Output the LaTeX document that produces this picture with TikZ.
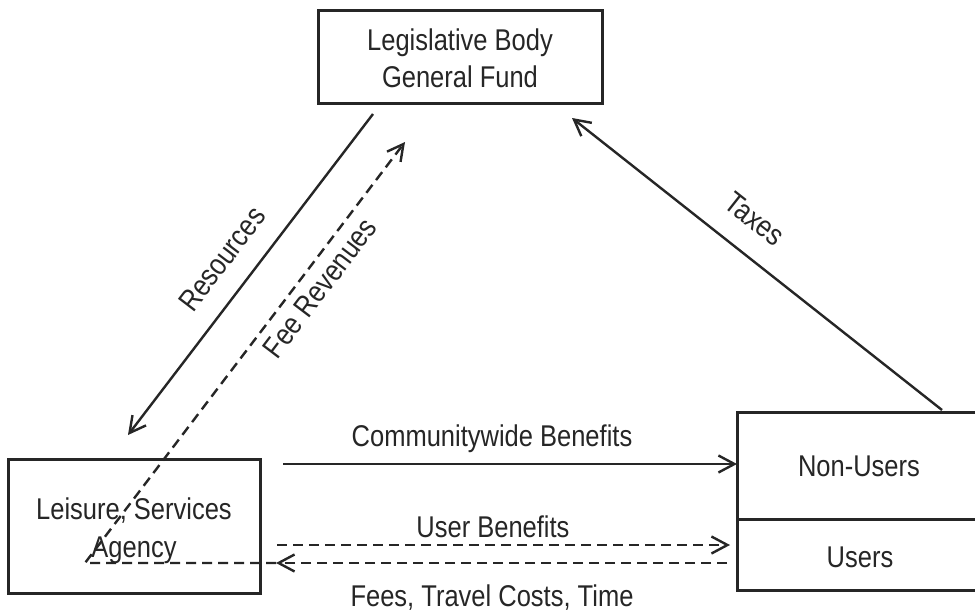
\documentclass[tikz,border=0pt]{standalone}
\usepackage{fontspec}
\setmainfont[FakeStretch=0.85]{Liberation Sans}
\usetikzlibrary{arrows.meta}
\definecolor{ink}{HTML}{262626}
\tikzset{
 boxst/.style={draw=ink, line width=3pt, inner sep=0pt},
 txt/.style={text=ink, font=\fontsize{30}{36}\selectfont, inner sep=0pt, anchor=base},
 lab/.style={text=ink, font=\fontsize{30}{36}\selectfont, inner sep=0pt},
 conn/.style={draw=ink, line width=2.4pt},
 tip/.style={-{Straight Barb[length=16pt,width=17pt]}},
 dsh/.style={dash pattern=on 10pt off 6pt}
}
\begin{document}
\begin{tikzpicture}[x=1pt,y=-1pt]
\useasboundingbox (0,0) rectangle (975,610);
\fill[white] (0,0) rectangle (975,610);
% boxes
\node[boxst, minimum width=284pt, minimum height=92pt] (leg) at (460,57) {};
\node[boxst, minimum width=252pt, minimum height=134pt] (lsa) at (134,526) {};
\node[boxst, minimum width=250pt, minimum height=107pt] (non) at (862,465.5) {};
\node[boxst, minimum width=250pt, minimum height=71pt] (usr) at (862,554.5) {};
% box texts
\node[txt] (t1) at (460,51) {Legislative Body};
\node[txt] (t2) at (460,88) {General Fund};
\node[txt] (t3) at (134,519) {Leisure, Services};
\node[txt] (t4) at (134,557) {Agency};
\node[txt] (t5) at (859,476) {Non-Users};
\node[txt] (t6) at (860,567) {Users};
% connector labels
\node[txt] (l1) at (492,446) {Communitywide Benefits};
\node[txt] (l2) at (493,537) {User Benefits};
\node[txt] (l3) at (492,606) {Fees, Travel Costs, Time};
\node[lab, rotate=52.6] (l4) at (222,259) {Resources};
\node[lab, rotate=52.8] (l5) at (320,288) {Fee Revenues};
\node[lab, rotate=-38.3] (l6) at (755,219) {Taxes};
% connector end points
\coordinate (resA) at (373,114);
\coordinate (resB) at (128,435);
\coordinate (feeC) at (85,563);
\coordinate (feeT) at (405,142);
\coordinate (ftL) at (276,563);
\coordinate (ftR) at (727,563);
\coordinate (taxA) at (942,410);
\coordinate (taxB) at (572,118);
\coordinate (cwA) at (283,464);
\coordinate (cwB) at (737,464);
\coordinate (ubA) at (277,545);
\coordinate (ubB) at (730,545);
% connectors
\draw[conn,tip] (resA) -- (resB);
\draw[conn,dsh,tip] (ftR) -- (ftL);
\draw[conn,dsh,tip] (ftL) -- (feeC) -- (feeT);
\draw[conn,tip] (taxA) -- (taxB);
\draw[conn,tip] (cwA) -- (cwB);
\draw[conn,dsh,tip] (ubA) -- (ubB);
\end{tikzpicture}
\end{document}
